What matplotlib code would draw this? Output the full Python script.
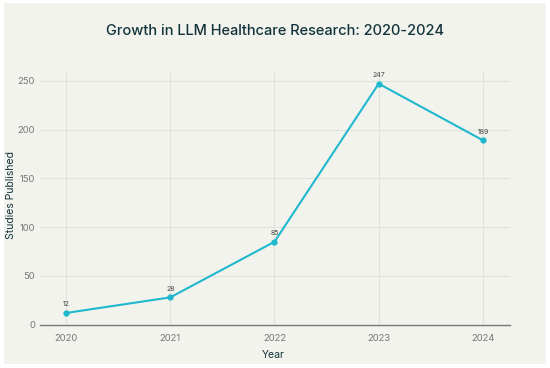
import matplotlib.pyplot as plt
from matplotlib.patches import Rectangle

plt.rcParams['font.family'] = ['Inter', 'DejaVu Sans']

# данные
years = [2020, 2021, 2022, 2023, 2024]
studies = [12, 28, 85, 247, 189]
y_ticks = [0, 50, 100, 150, 200, 250]

W, H = 550, 368
fig = plt.figure(figsize=(5.5, 3.68), dpi=100, facecolor='white')
bg = Rectangle((4 / W, 1 - 364 / H), 542 / W, 361 / H,
               transform=fig.transFigure, facecolor='#F3F3EE',
               edgecolor='none', zorder=-10)
fig.add_artist(bg)

ax = fig.add_axes([40 / W, 1 - 324.7 / H, 470 / W, 252.7 / H])
ax.set_facecolor('none')

ax.plot(years, studies, color='#1FB8CD', linewidth=1.5, marker='o',
        markersize=3.5, zorder=3)
for x, y in zip(years, studies):
    ax.annotate(str(y), (x, y), xytext=(0, 4), textcoords='offset points',
                ha='center', va='bottom', fontsize=5, color='#444444')

ax.set_xlim(2019.75, 2024.26)
ax.set_ylim(0, 259)
ax.set_xticks(years)
ax.set_yticks(y_ticks)
ax.grid(True, color='#E2E2DC', linewidth=0.8)
ax.set_axisbelow(True)
for s in ['top', 'right', 'left']:
    ax.spines[s].set_visible(False)
ax.spines['bottom'].set_color('#777777')
ax.spines['bottom'].set_linewidth(1)
ax.tick_params(length=0, labelsize=6.8, labelcolor='#777777')
ax.tick_params(axis='x', pad=6.5)
ax.tick_params(axis='y', pad=3.5)

# подписи осей
fig.text(273 / W, 1 - 355 / H, 'Year', ha='center', va='center',
         fontsize=7.5, color='#13343B')
fig.text(11 / W, 1 - 195 / H, 'Studies Published', ha='center', va='center',
         rotation=90, fontsize=7.5, color='#13343B')

fig.text(0.5, 1 - 31 / H, 'Growth in LLM Healthcare Research: 2020-2024',
         ha='center', va='center', fontsize=10.5, color='#13343B',
         fontweight='medium')

fig.savefig('out.png', dpi=100)
